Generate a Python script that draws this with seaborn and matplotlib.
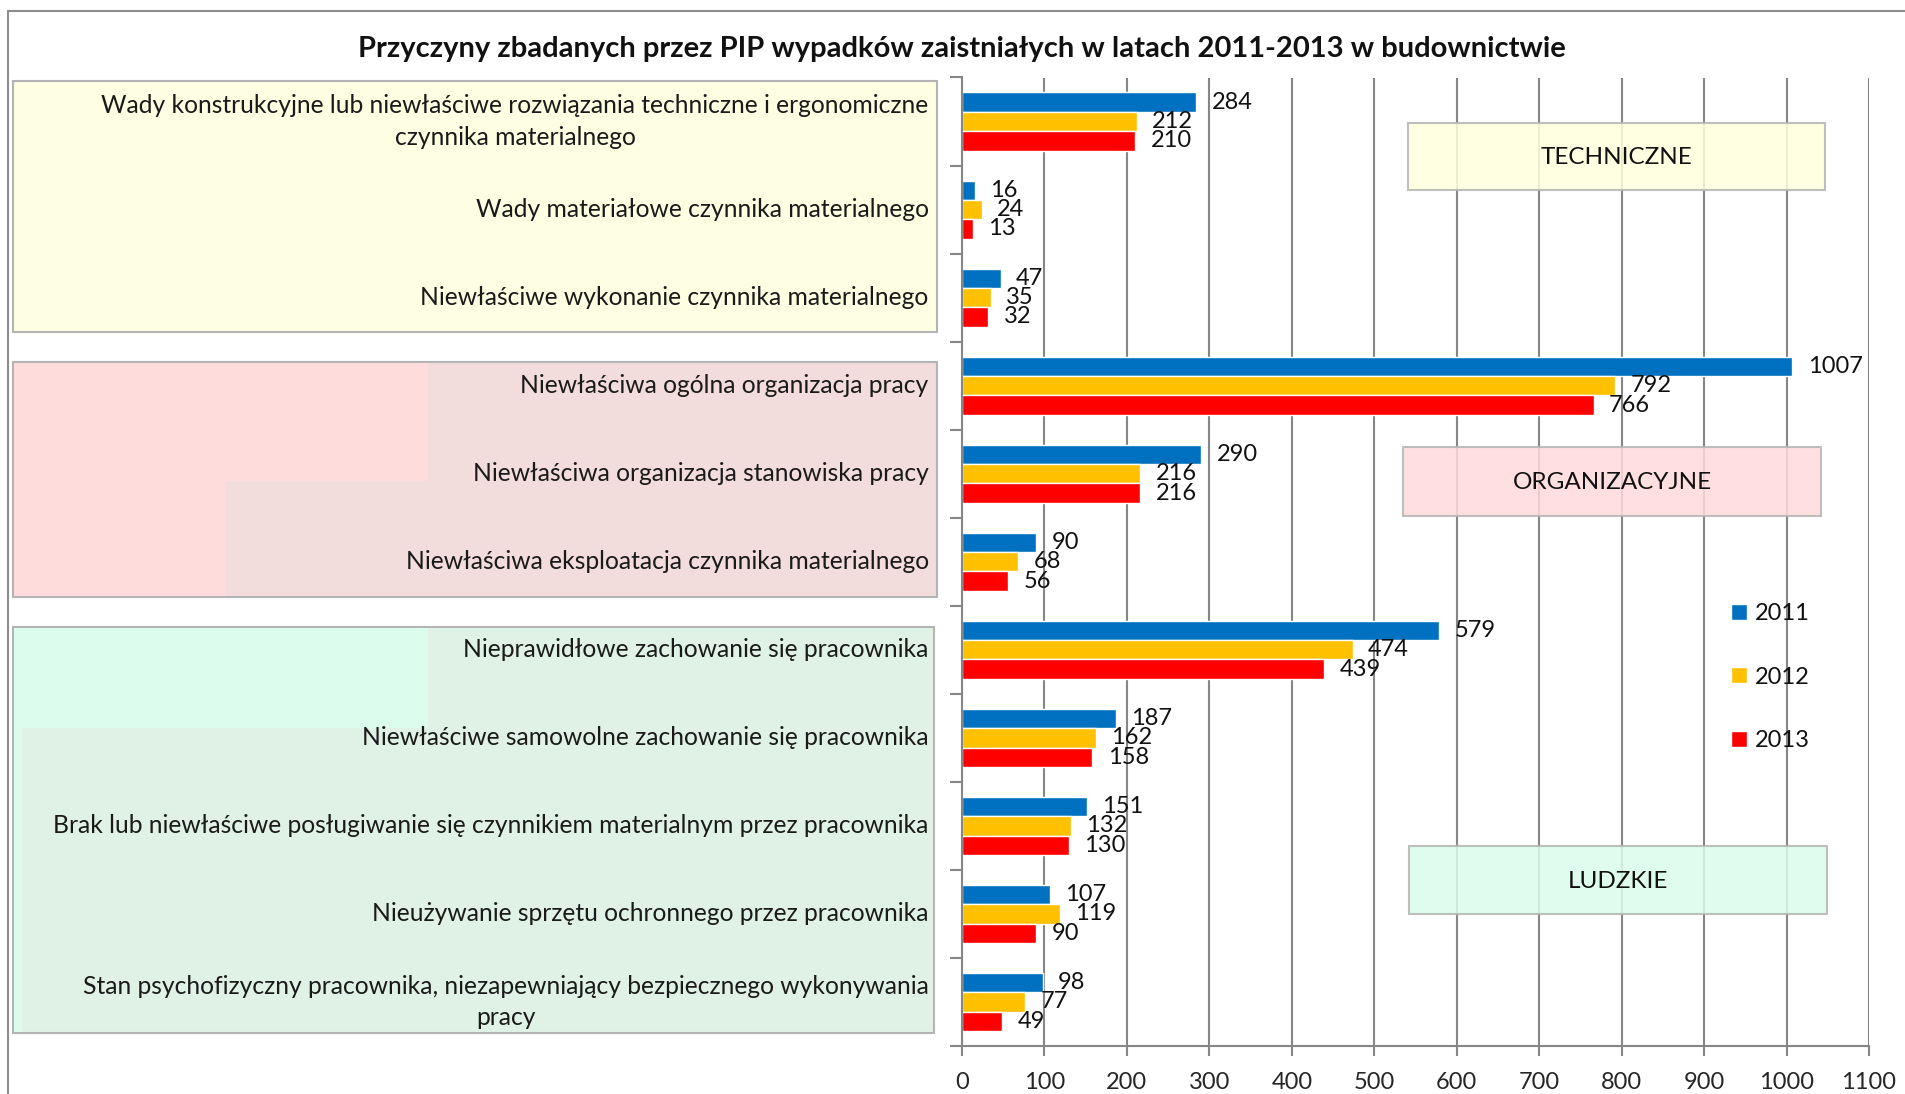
import matplotlib
matplotlib.use('Agg')
import matplotlib.pyplot as plt
from matplotlib.patches import Rectangle
from matplotlib.lines import Line2D
import pandas as pd
import seaborn as sns

# dane z wykresu
causes = [
    'Wady konstrukcyjne lub niewłaściwe rozwiązania techniczne i ergonomiczne\nczynnika materialnego',
    'Wady materiałowe czynnika materialnego',
    'Niewłaściwe wykonanie czynnika materialnego',
    'Niewłaściwa ogólna organizacja pracy',
    'Niewłaściwa organizacja stanowiska pracy',
    'Niewłaściwa eksploatacja czynnika materialnego',
    'Nieprawidłowe zachowanie się pracownika',
    'Niewłaściwe samowolne zachowanie się pracownika',
    'Brak lub niewłaściwe posługiwanie się czynnikiem materialnym przez pracownika',
    'Nieużywanie sprzętu ochronnego przez pracownika',
    'Stan psychofizyczny pracownika, niezapewniający bezpiecznego wykonywania\npracy',
]
v2011 = [284, 16, 47, 1007, 290, 90, 579, 187, 151, 107, 98]
v2012 = [212, 24, 35, 792, 216, 68, 474, 162, 132, 119, 77]
v2013 = [210, 13, 32, 766, 216, 56, 439, 158, 130, 90, 49]
years = ['2011', '2012', '2013']
year_colors = ['#0070C0', '#FFC000', '#FF0000']
groups = ['TECHNICZNE', 'ORGANIZACYJNE', 'LUDZKIE']
xticks = list(range(0, 1101, 100))
title = 'Przyczyny zbadanych przez PIP wypadków zaistniałych w latach 2011-2013 w budownictwie'

df = pd.DataFrame({
    'cause': causes * 3,
    'year': [y for y in years for _ in causes],
    'value': v2011 + v2012 + v2013,
})

W, H = 1905, 1094
GRID = '#868686'

sns.set_theme(style='white')
plt.rcParams['font.family'] = ['Lato', 'DejaVu Sans']
plt.rcParams['text.color'] = '#111111'


def fx(x):
    return x / W


def fy(y):
    return 1 - y / H


def box(x0, y0, x1, y1, fc, ec='none', lw=0, z=-2, alpha=1):
    r = Rectangle((fx(x0), fy(y1)), fx(x1 - x0), (y1 - y0) / H, transform=fig.transFigure,
                  fc=fc, ec=ec, lw=lw, zorder=z, alpha=alpha)
    fig.add_artist(r)


fig = plt.figure(figsize=(W / 100, H / 100), dpi=100)
ax = fig.add_axes([fx(962), fy(1046), fx(1869 - 962), (1046 - 77.5) / H])

sns.barplot(data=df, y='cause', x='value', hue='year', orient='h', palette=year_colors,
            width=0.66, saturation=1, ax=ax)

for c in ax.containers:
    ax.bar_label(c, padding=11, fontsize=17, color='#111111')

ax.set_xlim(0, 1100)
ax.set_ylim(10.5, -0.5)
ax.set_xticks(xticks)
ax.set_xticklabels([str(t) for t in xticks])
ax.set_yticks(range(len(causes)))
ax.set_yticklabels(causes, ha='right', multialignment='center', linespacing=1.45, va='center')
ax.set_yticks([i - 0.5 for i in range(len(causes) + 1)], minor=True)
ax.tick_params(axis='y', which='major', length=0, pad=24, labelsize=17.7, labelcolor='#1a1a1a')
ax.tick_params(axis='y', which='minor', length=9, width=1.5, color=GRID, left=True)
ax.tick_params(axis='x', length=7, width=1.5, color=GRID, pad=12, labelsize=17, bottom=True)
for t in ax.get_yticklabels():
    t.set_y(t.get_position()[1])
ax.set_xlabel('')
ax.set_ylabel('')
ax.xaxis.grid(True, color=GRID, lw=1.5)
ax.yaxis.grid(False)
ax.set_axisbelow(True)
for s in ['top', 'right']:
    ax.spines[s].set_visible(False)
for s in ['left', 'bottom']:
    ax.spines[s].set_color(GRID)
    ax.spines[s].set_linewidth(1.5)

handles, labels = ax.get_legend_handles_labels()
ax.legend(handles, labels, loc='center left', bbox_to_anchor=(fx(1710), fy(677)),
          bbox_transform=fig.transFigure, frameon=False, fontsize=17,
          handlelength=0.65, handleheight=0.65, labelspacing=1.8, handletextpad=0.35)

# tła grup po lewej
box(13, 81, 937, 332, '#FEFEE2', ec='#B4B4B4', lw=1.5)
box(13, 362, 937, 597, '#F2DCDC', ec='#B4B4B4', lw=1.5)
box(14, 363, 428, 481, '#FFDCDC', z=-1.5)
box(14, 481, 225, 596, '#FFDCDC', z=-1.5)
box(13, 627, 934, 1033, '#E0F2E6', ec='#B4B4B4', lw=1.5)
box(14, 628, 428, 728, '#DCFCEE', z=-1.5)
box(14, 728, 22, 1032, '#DCFCEE', z=-1.5)

# etykiety grup po prawej
right_boxes = [(1408, 123, 1825, 190, '#FFFFDC'),
               (1403, 447, 1821, 516, '#FFDADA'),
               (1409, 846, 1827, 914, '#DAFDEB')]
for name, (x0, y0, x1, y1, col) in zip(groups, right_boxes):
    box(x0, y0, x1, y1, col, ec='#B4B4B4', lw=1.5, z=3, alpha=0.85)
    fig.text(fx((x0 + x1) / 2), fy((y0 + y1) / 2 + 1), name, ha='center', va='center',
             fontsize=17.5, zorder=4)

fig.text(fx(962), fy(49), title, ha='center', va='center', fontsize=21, fontweight='bold')

# ramka
fig.add_artist(Line2D([fx(8), fx(8)], [0, fy(11)], color='#8C8C8C', lw=1.5))
fig.add_artist(Line2D([fx(8), 1], [fy(11), fy(11)], color='#8C8C8C', lw=1.5))

fig.savefig('out.png', dpi=100)
